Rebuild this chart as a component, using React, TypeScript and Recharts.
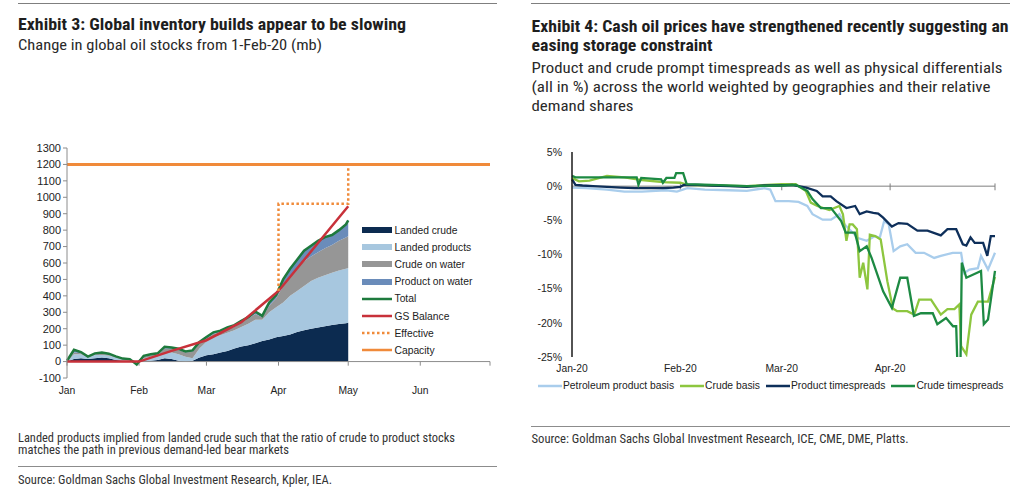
import React from "react";
import { ComposedChart, LineChart, Line, Area, XAxis, YAxis, ReferenceLine, Legend } from "recharts";

// ---- Exhibit 3: global inventory (mb), day-of-year 2020 ----
const inventoryDays = [0, 3, 6, 9, 12, 15, 18, 21, 24, 27, 30, 33, 36, 39, 42, 45, 48, 51, 54, 57, 60, 63, 66, 69, 72, 75, 78, 81, 84, 87, 90, 93, 96, 99, 102, 105, 108, 111, 114, 117, 120, 121];
const landedCrude = [0, 15, 20, 15, 20, 25, 20, 10, 5, 0, 0, 0, 5, 10, 20, 15, 5, 0, 5, 25, 38, 45, 55, 65, 80, 92, 100, 112, 125, 135, 148, 155, 165, 180, 190, 200, 208, 215, 222, 228, 233, 236];
const landedProducts = [0, 30, 25, 10, 20, 15, 15, 15, 5, 5, 0, 20, 25, 20, 35, 40, 40, 30, 15, 55, 82, 105, 105, 110, 110, 118, 130, 143, 130, 165, 182, 205, 235, 250, 270, 290, 302, 310, 318, 327, 332, 334];
const crudeOnWater = [0, 10, 5, 0, 5, 8, 5, 3, 2, 3, 0, 8, 8, 12, 25, 23, 25, 25, 40, 30, 20, 18, 18, 23, 20, 30, 32, 35, 15, 40, 55, 100, 120, 140, 150, 150, 155, 165, 170, 180, 190, 195];
const productOnWater = [5, 17, 8, 5, 5, 7, 8, 4, 6, 7, 0, 7, 7, 8, 10, 7, 8, 7, 8, 10, 10, 10, 10, 10, 12, 8, 8, 15, 8, 20, 20, 40, 45, 50, 65, 65, 70, 68, 60, 65, 80, 95];
const totalStocks = [5, 72, 58, 30, 50, 55, 48, 32, 18, 15, -18, 35, 45, 50, 90, 85, 78, 62, 68, 120, 150, 178, 188, 208, 222, 248, 270, 305, 278, 360, 405, 500, 565, 620, 675, 705, 735, 758, 770, 800, 835, 860];

const gsBalanceDays = [0, 31, 45, 60, 75, 91, 121];
const gsBalance = [0, 0, 65, 130, 240, 430, 945];

const effectiveDays = [91, 91, 121, 121];
const effective = [430, 960, 960, 1200];

const capacityDays = [0, 182];
const capacity = [1200, 1200];

const monthTicks = [0, 31, 60, 91, 121, 152, 182];
const monthLabels = ["Jan", "Feb", "Mar", "Apr", "May", "Jun", ""];
const stockTicks = [-100, 0, 100, 200, 300, 400, 500, 600, 700, 800, 900, 1000, 1100, 1200, 1300];

// ---- Exhibit 4: prices (%), day-of-year 2020 ----
const productBasisDays = [0, 4, 10, 15, 20, 24, 27, 30, 33, 38, 45, 50, 55, 56.7, 58.2, 62, 64.8, 67.3, 68.8, 71.7, 74.1, 76.5, 78, 79.9, 81.8, 84.3, 86.7, 88, 89.3, 90.6, 92, 93.9, 95.9, 98.3, 100.7, 103.6, 105.5, 108.9, 111.3, 112.2, 113.7, 116.1, 117, 119, 121];
const productBasis = [-0.2, -0.3, -0.5, -0.8, -0.8, -0.7, -0.6, -0.8, -0.3, -0.5, -0.6, -0.7, -0.3, -0.5, -2.2, -2.2, -2.3, -2.9, -4.1, -4.9, -4.9, -4.1, -5.6, -6.6, -7.6, -8.0, -7.3, -7.6, -5.1, -5.6, -9.5, -8.8, -8.5, -9.75, -9.75, -10.5, -10.2, -9.75, -9.75, -12.7, -12.2, -12.0, -10.2, -12.2, -9.75];

const crudeBasisDays = [0, 2, 5, 10, 15, 20, 26, 31, 33, 40, 50, 60, 64, 66.9, 68.3, 70.2, 73.6, 76.5, 77.5, 78.5, 79.4, 80.3, 81.5, 82.3, 83.3, 84.5, 85.2, 86.7, 88.3, 90.2, 91.8, 93, 95.9, 97.9, 99.3, 102.7, 105.5, 107.4, 109.4, 110.8, 111.3, 112.8, 114.2, 116.1, 119, 121];
const crudeBasis = [1.2, 0.7, 0.8, 1.5, 1.3, 0.9, 0.6, 0.5, 0.2, 0.1, 0, 0.3, 0.3, -0.7, -2.4, -2.9, -3.5, -2.9, -4.1, -8.0, -5.6, -5.6, -6.3, -13.4, -11.2, -15.1, -7.1, -7.3, -7.8, -13.9, -17.9, -18.3, -18.3, -18.8, -16.6, -16.6, -18.8, -18.0, -18.0, -17.3, -23.4, -24.6, -18.8, -16.9, -16.9, -13.3];

const productSpreadDays = [0, 1, 3, 6, 10, 14, 18, 22, 26, 29, 31, 32, 36, 40, 45, 50, 55, 59, 63, 67, 70, 71.7, 74, 75.6, 78.5, 81, 82.3, 84.3, 86.2, 87.6, 89, 91.5, 93.4, 95.9, 98.8, 101.7, 105.5, 107.4, 109.9, 111.8, 112.8, 114, 115.2, 117.6, 118.8, 119.8, 121];
const productSpreads = [1.0, 0.2, 0.1, 0, -0.1, -0.2, -0.3, -0.3, -0.3, -0.2, -0.1, 0.2, 0.2, 0.1, 0, -0.1, 0.1, 0.1, 0.2, -0.2, -0.7, -1.5, -1.5, -2.2, -3.2, -2.9, -4.1, -3.7, -3.9, -4.0, -4.6, -5.9, -5.4, -5.5, -6.5, -6.5, -7.2, -6.3, -6.3, -8.5, -8.7, -7.5, -8.3, -8.3, -10.2, -7.3, -7.3];

const crudeSpreadDays = [0, 1, 9, 18.5, 19, 19.8, 25.5, 26, 27, 29.3, 29.8, 31.8, 32.8, 40, 50, 60, 64, 67.3, 68.8, 71.2, 74.1, 77, 78.3, 80.9, 82.3, 84.3, 85.7, 89, 91.5, 93.9, 95.9, 97.8, 99.8, 103.2, 104.5, 107, 109, 109.9, 110.3, 111.1, 111.5, 112.8, 117, 117.8, 119, 121];
const crudeSpreads = [1.5, 1.3, 1.3, 1.3, 0.2, 1.2, 1.0, 0.5, 1.2, 1.2, 1.9, 1.9, 0.3, 0.2, 0, 0.1, 0.2, -0.7, -1.9, -3.2, -3.2, -5.1, -6.8, -6.8, -9.5, -8.8, -10.5, -15.4, -17.8, -13.4, -13.4, -19.0, -18.6, -18.6, -20.2, -19.3, -20.5, -20.5, -27, -27, -11.2, -13.4, -12.4, -20.2, -19.5, -12.4];

const priceTicks = [5, 0, -5, -10, -15, -20, -25];
const priceMonthTicks = [0, 31, 60, 91, 121];
const priceMonthLabels = ["Jan-20", "Feb-20", "Mar-20", "Apr-20", ""];

const tickFont = "'Liberation Sans', Arial, sans-serif";
const headFont = "'Liberation Sans Narrow', 'Roboto Condensed', 'DejaVu Sans Condensed', Roboto, sans-serif";

const toPoints = (days: number[], vals: number[]) => days.map((day, i) => ({ day, value: vals[i] }));

const inventoryData = inventoryDays.map((day, i) => ({
  day,
  landedCrude: landedCrude[i],
  landedProducts: landedProducts[i],
  crudeOnWater: crudeOnWater[i],
  productOnWater: productOnWater[i],
  total: totalStocks[i],
}));

const inventoryLegend = [
  { name: "Landed crude", color: "#0c2b50", kind: "area" },
  { name: "Landed products", color: "#a7c7df", kind: "area" },
  { name: "Crude on water", color: "#969696", kind: "area" },
  { name: "Product on water", color: "#6a8cba", kind: "area" },
  { name: "Total", color: "#1e7a3d", kind: "line" },
  { name: "GS Balance", color: "#c8313a", kind: "line" },
  { name: "Effective", color: "#f08a3a", kind: "dotted" },
  { name: "Capacity", color: "#f08a3a", kind: "line" },
];

const priceLegend = [
  { name: "Petroleum product basis", color: "#a9cdec" },
  { name: "Crude basis", color: "#8dc63f" },
  { name: "Product timespreads", color: "#0e2f5a" },
  { name: "Crude timespreads", color: "#1d8a43" },
];

function MonthTick(props: any) {
  const { x, y, payload } = props;
  const label = monthLabels[monthTicks.indexOf(payload.value)];
  return (
    <text x={x} y={y + 16} textAnchor="middle" fontSize={10.3} fill="#222" fontFamily={tickFont}>
      {label}
    </text>
  );
}

function PriceMonthTick(props: any) {
  const { x, y, payload } = props;
  const label = priceMonthLabels[priceMonthTicks.indexOf(payload.value)];
  return (
    <text x={x} y={y + 15} textAnchor="middle" fontSize={10.3} fill="#222" fontFamily={tickFont}>
      {label}
    </text>
  );
}

function InventoryLegend() {
  return (
    <div style={{ fontFamily: tickFont, fontSize: 10.3, color: "#222" }}>
      {inventoryLegend.map((item) => (
        <div key={item.name} style={{ display: "flex", alignItems: "center", height: 17.2 }}>
          <svg width={30} height={8} style={{ marginRight: 3 }}>
            {item.kind === "area" ? (
              <rect x={0} y={1} width={30} height={6} fill={item.color} />
            ) : (
              <line x1={0} x2={30} y1={4} y2={4} stroke={item.color} strokeWidth={2.5}
                strokeDasharray={item.kind === "dotted" ? "2.5 2.5" : undefined} />
            )}
          </svg>
          <span>{item.name}</span>
        </div>
      ))}
    </div>
  );
}

function PriceLegend() {
  return (
    <div style={{ display: "flex", fontFamily: tickFont, fontSize: 10.3, color: "#222", whiteSpace: "nowrap" }}>
      {priceLegend.map((item) => (
        <div key={item.name} style={{ display: "flex", alignItems: "center", marginRight: 6 }}>
          <svg width={24} height={6} style={{ marginRight: 1 }}>
            <line x1={0} x2={24} y1={3} y2={3} stroke={item.color} strokeWidth={2.5} />
          </svg>
          <span>{item.name}</span>
        </div>
      ))}
    </div>
  );
}

function Headers() {
  return (
    <svg width={1023} height={490} style={{ position: "absolute", left: 0, top: 0 }}>
      <line x1={18} x2={497} y1={3.5} y2={3.5} stroke="#7f7f7f" />
      <line x1={531} x2={1010} y1={3.5} y2={3.5} stroke="#7f7f7f" />
      <g fontFamily={headFont} fill="#1e1e1e">
        <text x={18} y={30} fontSize={16.5} fontWeight="bold" textLength={388} lengthAdjust="spacingAndGlyphs">
          Exhibit 3: Global inventory builds appear to be slowing
        </text>
        <text x={18} y={50} fontSize={14} fill="#2a2a2a" textLength={304} lengthAdjust="spacingAndGlyphs">
          Change in global oil stocks from 1-Feb-20 (mb)
        </text>
        <text x={531.5} y={31.5} fontSize={16.5} fontWeight="bold" textLength={477} lengthAdjust="spacingAndGlyphs">
          Exhibit 4: Cash oil prices have strengthened recently suggesting an
        </text>
        <text x={531.5} y={50.5} fontSize={16.5} fontWeight="bold" textLength={181} lengthAdjust="spacingAndGlyphs">
          easing storage constraint
        </text>
        <text x={531.5} y={72.5} fontSize={15} fill="#2a2a2a" textLength={471} lengthAdjust="spacingAndGlyphs">
          Product and crude prompt timespreads as well as physical differentials
        </text>
        <text x={531.5} y={91.5} fontSize={15} fill="#2a2a2a" textLength={459} lengthAdjust="spacingAndGlyphs">
          (all in %) across the world weighted by geographies and their relative
        </text>
        <text x={531.5} y={110.5} fontSize={15} fill="#2a2a2a" textLength={102} lengthAdjust="spacingAndGlyphs">
          demand shares
        </text>
        <text x={18} y={441.5} fontSize={12} fill="#333" textLength={437} lengthAdjust="spacingAndGlyphs">
          Landed products implied from landed crude such that the ratio of crude to product stocks
        </text>
        <text x={18} y={453.5} fontSize={12} fill="#333" textLength={271} lengthAdjust="spacingAndGlyphs">
          matches the path in previous demand-led bear markets
        </text>
        <text x={18} y={484} fontSize={12} fill="#333" textLength={314} lengthAdjust="spacingAndGlyphs">
          Source: Goldman Sachs Global Investment Research, Kpler, IEA.
        </text>
        <text x={531.5} y={442.5} fontSize={12} fill="#333" textLength={377} lengthAdjust="spacingAndGlyphs">
          Source: Goldman Sachs Global Investment Research, ICE, CME, DME, Platts.
        </text>
      </g>
      <line x1={18} x2={497} y1={466.5} y2={466.5} stroke="#8c8c8c" />
      <line x1={531} x2={1010} y1={426.5} y2={426.5} stroke="#8c8c8c" />
    </svg>
  );
}

function InventoryChart() {
  return (
    <ComposedChart width={510} height={490} data={inventoryData} margin={{ top: 148, right: 20, bottom: 82, left: 0 }}>
      <XAxis dataKey="day" type="number" domain={[0, 182]} ticks={monthTicks} interval={0}
        axisLine={false} tickLine={false} tickSize={0} tickMargin={0} height={30} tick={<MonthTick />} />
      <YAxis type="number" domain={[-100, 1300]} ticks={stockTicks} interval={0} width={67}
        axisLine={{ stroke: "#8c8c8c" }} tickLine={{ stroke: "#8c8c8c" }} tickSize={4} tickMargin={2}
        tick={{ fontSize: 11, fill: "#222", fontFamily: tickFont }} />
      <ReferenceLine y={0} stroke="#8c8c8c" />
      {monthTicks.map((d) => (
        <ReferenceLine key={d} segment={[{ x: d, y: 0 }, { x: d, y: -25 }]} stroke="#8c8c8c" />
      ))}
      <Area type="linear" dataKey="landedCrude" stackId="s" stroke="none" fill="#0c2b50" fillOpacity={1} isAnimationActive={false} />
      <Area type="linear" dataKey="landedProducts" stackId="s" stroke="none" fill="#a7c7df" fillOpacity={1} isAnimationActive={false} />
      <Area type="linear" dataKey="crudeOnWater" stackId="s" stroke="none" fill="#969696" fillOpacity={1} isAnimationActive={false} />
      <Area type="linear" dataKey="productOnWater" stackId="s" stroke="none" fill="#6a8cba" fillOpacity={1} isAnimationActive={false} />
      <Line type="linear" dataKey="total" stroke="#1e7a3d" strokeWidth={2.5} dot={false} isAnimationActive={false} />
      <Line type="linear" data={toPoints(gsBalanceDays, gsBalance)} dataKey="value" stroke="#c8313a" strokeWidth={2.5} dot={false} isAnimationActive={false} />
      <Line type="linear" data={toPoints(effectiveDays, effective)} dataKey="value" stroke="#f08a3a" strokeWidth={2.5} strokeDasharray="2.5 2.5" dot={false} isAnimationActive={false} />
      <Line type="linear" data={toPoints(capacityDays, capacity)} dataKey="value" stroke="#f08a3a" strokeWidth={3} dot={false} isAnimationActive={false} />
      <Legend layout="vertical" align="center" verticalAlign="middle" content={<InventoryLegend />}
        wrapperStyle={{ left: 361.5, top: 221.5, width: 140 }} />
    </ComposedChart>
  );
}

function PriceChart() {
  return (
    <LineChart width={513} height={490} margin={{ top: 152, right: 28, bottom: 113, left: 0 }}>
      <XAxis dataKey="day" type="number" domain={[0, 121]} ticks={priceMonthTicks} interval={0}
        axisLine={false} tickLine={false} tickSize={0} tickMargin={0} height={20} tick={<PriceMonthTick />} />
      <YAxis type="number" domain={[-25, 5]} ticks={priceTicks} interval={0} width={62} allowDataOverflow
        axisLine={{ stroke: "#1a1a1a", strokeWidth: 1.5 }} tickLine={false} tickSize={0} tickMargin={10}
        tickFormatter={(v: number) => `${v}%`} tick={{ fontSize: 10.5, fill: "#222", fontFamily: tickFont }} />
      <ReferenceLine y={0} stroke="#7f7f7f" />
      {priceMonthTicks.slice(1).map((d) => (
        <ReferenceLine key={d} segment={[{ x: d, y: 0.4 }, { x: d, y: -0.6 }]} stroke="#7f7f7f" />
      ))}
      <Line type="linear" data={toPoints(productBasisDays, productBasis)} dataKey="value" stroke="#a9cdec" strokeWidth={2.3} dot={false} isAnimationActive={false} />
      <Line type="linear" data={toPoints(crudeBasisDays, crudeBasis)} dataKey="value" stroke="#8dc63f" strokeWidth={2.3} dot={false} isAnimationActive={false} />
      <Line type="linear" data={toPoints(productSpreadDays, productSpreads)} dataKey="value" stroke="#0e2f5a" strokeWidth={2.3} dot={false} isAnimationActive={false} />
      <Line type="linear" data={toPoints(crudeSpreadDays, crudeSpreads)} dataKey="value" stroke="#1d8a43" strokeWidth={2.3} dot={false} isAnimationActive={false} />
      <Legend layout="vertical" align="center" verticalAlign="middle" content={<PriceLegend />}
        wrapperStyle={{ left: 28, top: 380, width: 480 }} />
    </LineChart>
  );
}

export default function App() {
  return (
    <div style={{ position: "relative", width: 1023, height: 490, background: "#fff", overflow: "hidden" }}>
      <style>{"body{margin:0}"}</style>
      <Headers />
      <div style={{ position: "absolute", left: 0, top: 0 }}>
        <InventoryChart />
      </div>
      <div style={{ position: "absolute", left: 510, top: 0 }}>
        <PriceChart />
      </div>
    </div>
  );
}
